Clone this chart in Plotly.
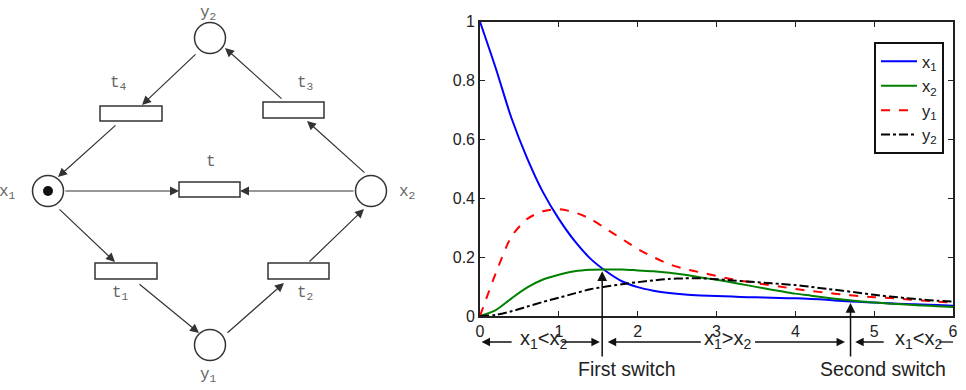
import plotly.graph_objects as go

# ---------------- data: simulated trajectories ----------------
T = [0, 0.2, 0.4, 0.6, 0.8, 1.0, 1.2, 1.4, 1.6, 1.8, 2.0, 2.2, 2.4, 2.6, 2.8, 3.0,
     3.2, 3.4, 3.6, 3.8, 4.0, 4.2, 4.4, 4.6, 4.8, 5.0, 5.2, 5.4, 5.6, 5.8, 6.0]
X1 = [1.0, 0.842, 0.672, 0.535, 0.42, 0.33, 0.255, 0.195, 0.152, 0.118, 0.098, 0.086,
      0.078, 0.073, 0.070, 0.068, 0.066, 0.064, 0.063, 0.061, 0.060, 0.058, 0.055, 0.051,
      0.048, 0.046, 0.043, 0.041, 0.039, 0.037, 0.035]
X2 = [0.0, 0.02, 0.06, 0.097, 0.124, 0.14, 0.152, 0.157, 0.158, 0.158, 0.155, 0.152,
      0.147, 0.14, 0.131, 0.123, 0.114, 0.104, 0.094, 0.085, 0.076, 0.069, 0.062, 0.056,
      0.050, 0.046, 0.042, 0.039, 0.036, 0.033, 0.031]
Y1 = [0.0, 0.145, 0.27, 0.33, 0.356, 0.363, 0.352, 0.33, 0.296, 0.262, 0.228, 0.2,
      0.176, 0.16, 0.148, 0.136, 0.125, 0.116, 0.108, 0.1, 0.092, 0.085, 0.079, 0.073,
      0.068, 0.064, 0.061, 0.057, 0.053, 0.049, 0.045]
Y2 = [0.0, 0.004, 0.016, 0.032, 0.048, 0.062, 0.077, 0.091, 0.100, 0.108, 0.115, 0.121,
      0.126, 0.128, 0.128, 0.125, 0.121, 0.117, 0.113, 0.109, 0.105, 0.099, 0.092, 0.086,
      0.079, 0.072, 0.066, 0.061, 0.056, 0.052, 0.049]
SERIES_NAMES = ["x<sub>1</sub>", "x<sub>2</sub>", "y<sub>1</sub>", "y<sub>2</sub>"]

X_TICKS = [0, 1, 2, 3, 4, 5, 6]
Y_TICKS = [0, 0.2, 0.4, 0.6, 0.8, 1]
Y_TICK_TEXT = ["0", "0.2", "0.4", "0.6", "0.8", "1"]

SWITCH_T = [1.55, 4.70]
SWITCH_Y = [0.152, 0.044]
SWITCH_LABELS = ["First switch", "Second switch"]
REGION_LABELS = ["x<sub>1</sub>&lt;x<sub>2</sub>", "x<sub>1</sub>&gt;x<sub>2</sub>",
                 "x<sub>1</sub>&lt;x<sub>2</sub>"]

# ---------------- data: Petri net ----------------
PLACE_NAMES = ["x<sub>1</sub>", "x<sub>2</sub>", "y<sub>1</sub>", "y<sub>2</sub>"]
PLACE_X = [48, 371, 210, 210]
PLACE_Y = [191, 191, 345, 38]
PLACE_LABEL_X = [7, 407, 208, 208]
PLACE_LABEL_Y = [192, 192, 375, 13]
TOKENS = [1, 0, 0, 0]

TRANS_NAMES = ["t", "t<sub>1</sub>", "t<sub>2</sub>", "t<sub>3</sub>", "t<sub>4</sub>"]
TRANS_X0 = [179, 95, 268, 263, 100]
TRANS_X1 = [240, 157, 329, 324, 162]
TRANS_Y0 = [182, 263, 263, 102, 106]
TRANS_Y1 = [197, 279, 279, 118, 121]
TRANS_LABEL_X = [211, 120, 305, 305, 118]
TRANS_LABEL_Y = [162, 293, 293, 83, 83]

# arcs: tail -> head (pixel coordinates of the diagram)
ARC_TAIL = [(197, 53), (117, 124), (64, 191), (355, 191), (366, 174),
            (283, 100), (58, 208), (138, 283), (226, 334), (308, 263)]
ARC_HEAD = [(142, 105), (58, 177), (179, 191), (240, 191), (307, 121),
            (225, 48), (115, 262), (199, 333), (284, 283), (364, 209)]

W, H = 966, 390


def py(px):
    return 1 - px / H


fig = go.Figure()

COLORS = ["#0000ff", "#008000", "#ff0000", "#000000"]
DASHES = ["solid", "solid", "dash", "dashdot"]
for name, ys, c, d in zip(SERIES_NAMES, [X1, X2, Y1, Y2], COLORS, DASHES):
    fig.add_trace(go.Scatter(x=T, y=ys, mode="lines", name=name,
                             line=dict(color=c, width=2, dash=d, shape="spline", smoothing=0.8),
                             xaxis="x", yaxis="y"))

# places as open circles + token
fig.add_trace(go.Scatter(x=PLACE_X, y=PLACE_Y, mode="markers", showlegend=False,
                         marker=dict(size=31, color="white", line=dict(color="#333", width=1.5)),
                         xaxis="x2", yaxis="y2", hoverinfo="skip"))
tok_x = [x for x, k in zip(PLACE_X, TOKENS) if k]
tok_y = [y for y, k in zip(PLACE_Y, TOKENS) if k]
fig.add_trace(go.Scatter(x=tok_x, y=tok_y, mode="markers", showlegend=False,
                         marker=dict(size=10, color="#111"),
                         xaxis="x2", yaxis="y2", hoverinfo="skip"))

shapes = []
for x0, x1, y0, y1 in zip(TRANS_X0, TRANS_X1, TRANS_Y0, TRANS_Y1):
    shapes.append(dict(type="rect", xref="x2", yref="y2", x0=x0, x1=x1, y0=y0, y1=y1,
                       line=dict(color="#333", width=1.5), fillcolor="white", layer="below"))

annotations = []
petri_font = dict(family="Liberation Mono, DejaVu Sans Mono, monospace", size=16, color="#666")
for n, x, y in zip(PLACE_NAMES, PLACE_LABEL_X, PLACE_LABEL_Y):
    annotations.append(dict(text=n, x=x, y=y, xref="x2", yref="y2", showarrow=False, font=petri_font))
for n, x, y in zip(TRANS_NAMES, TRANS_LABEL_X, TRANS_LABEL_Y):
    annotations.append(dict(text=n, x=x, y=y, xref="x2", yref="y2", showarrow=False, font=petri_font))
for (tx, ty), (hx, hy) in zip(ARC_TAIL, ARC_HEAD):
    annotations.append(dict(text="", x=hx, y=hy, ax=tx, ay=ty, xref="x2", yref="y2",
                            axref="x2", ayref="y2", showarrow=True, arrowhead=2,
                            arrowsize=1.5, arrowwidth=1.2, arrowcolor="#333", standoff=0))

# annotations under the chart
ann_font = dict(family="Liberation Sans, Arial, sans-serif", size=20, color="#222")
lbl_font = dict(family="Liberation Sans, Arial, sans-serif", size=19.5, color="#222")
for t, yv, lab in zip(SWITCH_T, SWITCH_Y, SWITCH_LABELS):
    annotations.append(dict(text="", x=t, y=yv, ax=t, ay=-0.143, xref="x", yref="y",
                            axref="x", ayref="y", showarrow=True, arrowhead=2,
                            arrowsize=1.3, arrowwidth=1.5, arrowcolor="#111", standoff=0))
SWITCH_LABEL_T = [1.86, 5.11]
for t, lab in zip(SWITCH_LABEL_T, SWITCH_LABELS):
    annotations.append(dict(text=lab, x=t, y=py(382), xref="x", yref="paper",
                            showarrow=False, font=lbl_font))

REGION_LABEL_T = [0.81, 3.14, 5.56]
for t, lab in zip(REGION_LABEL_T, REGION_LABELS):
    annotations.append(dict(text=lab, x=t, y=py(354), xref="x", yref="paper",
                            showarrow=False, font=ann_font))

ARROW_ROW = py(342)
H_ARROWS = [(0.42, 0.02), (1.02, 1.52), (2.82, 1.62), (3.47, 4.63), (5.14, 4.76)]
for tail, head in H_ARROWS:
    annotations.append(dict(text="", x=head, y=ARROW_ROW, ax=tail, ay=0,
                            xref="x", yref="paper", axref="x", ayref="pixel",
                            showarrow=True, arrowhead=2, arrowsize=1.3, arrowwidth=1.3,
                            arrowcolor="#111", standoff=0))
shapes.append(dict(type="line", xref="x", yref="paper", x0=5.82, x1=6.02, y0=ARROW_ROW, y1=ARROW_ROW,
                   line=dict(color="#111", width=1.3)))

axis_common = dict(showline=True, linecolor="#222", linewidth=1.6, mirror="allticks",
                   ticks="inside", ticklen=5, tickwidth=1.2, tickcolor="#222",
                   showgrid=False, zeroline=False, automargin=False,
                   tickfont=dict(family="Liberation Sans, Arial, sans-serif", size=16, color="#222"))

fig.update_layout(
    width=W, height=H, autosize=False,
    margin=dict(l=0, r=0, t=0, b=0, autoexpand=False),
    paper_bgcolor="white", plot_bgcolor="white",
    xaxis=dict(domain=[480 / W, 953 / W], range=[0, 6], tickvals=X_TICKS, anchor="y", **axis_common),
    yaxis=dict(domain=[py(316), py(21.7)], range=[0, 1], tickvals=Y_TICKS, ticktext=Y_TICK_TEXT,
               anchor="x", **axis_common),
    xaxis2=dict(domain=[0, 420 / W], range=[0, 420], visible=False, anchor="y2",
                fixedrange=True, automargin=False),
    yaxis2=dict(domain=[0, 1], range=[390, 0], visible=False, anchor="x2",
                fixedrange=True, automargin=False),
    legend=dict(x=944 / W, y=py(42), xanchor="right", yanchor="top",
                bordercolor="#111", borderwidth=2, bgcolor="white",
                font=dict(family="Liberation Sans, Arial, sans-serif", size=16.5, color="#222"),
                tracegroupgap=0, itemwidth=36),
    shapes=shapes,
    annotations=annotations,
    showlegend=True,
)

fig.write_html("out.html")
